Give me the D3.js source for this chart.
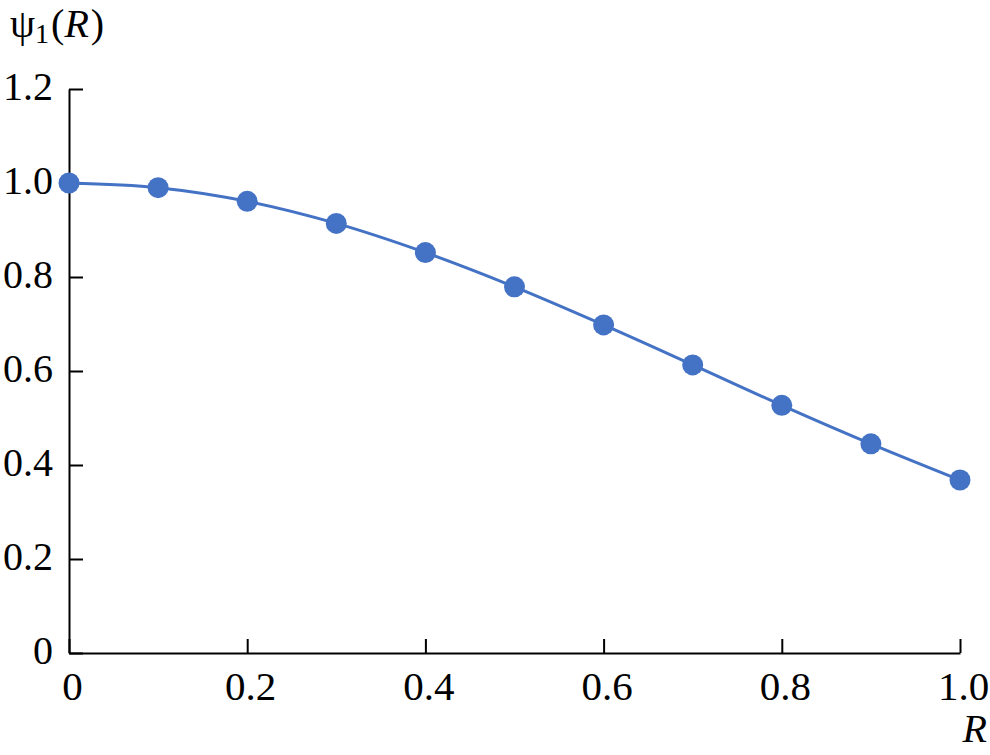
<!DOCTYPE html>
<html><head><meta charset="utf-8">
<script src="https://cdn.jsdelivr.net/npm/d3@7"></script>
<style>html,body{margin:0;padding:0;background:#fff;}</style>
</head><body>
<svg id="c" width="990" height="755"></svg>
<script>
const rValues = [0, 0.1, 0.2, 0.3, 0.4, 0.5, 0.6, 0.7, 0.8, 0.9, 1.0];
const psiValues = [1.0, 0.990, 0.961, 0.914, 0.852, 0.779, 0.698, 0.613, 0.527, 0.445, 0.368];
const xTicks = [0, 0.2, 0.4, 0.6, 0.8, 1.0];
const xTickLabels = ["0", "0.2", "0.4", "0.6", "0.8", "1.0"];
const yTicks = [0, 0.2, 0.4, 0.6, 0.8, 1.0, 1.2];
const yTickLabels = ["0", "0.2", "0.4", "0.6", "0.8", "1.0", "1.2"];

const svg = d3.select("#c");
const font = "Liberation Serif";
const color = "#4472C4";
const x = d3.scaleLinear().domain([0, 1]).range([69, 960]);
const y = d3.scaleLinear().domain([0, 1.2]).range([653, 89]);

// axes
const xAxis = d3.axisBottom(x).tickValues(xTicks).tickSizeInner(-14).tickSizeOuter(0)
  .tickFormat((d, i) => xTickLabels[i]);
const gx = svg.append("g").attr("transform", `translate(0,${y(0)})`).call(xAxis)
  .attr("font-family", font).attr("font-size", 41);
gx.select(".domain").attr("stroke", "#000").attr("stroke-width", 2);
gx.selectAll(".tick line").attr("stroke", "#000").attr("stroke-width", 2);
gx.selectAll(".tick text").attr("fill", "#000")
  .attr("y", 47).attr("dy", 0).attr("dx", 3);

const yAxis = d3.axisLeft(y).tickValues(yTicks).tickSizeInner(-14).tickSizeOuter(0)
  .tickFormat((d, i) => yTickLabels[i]);
const gy = svg.append("g").attr("transform", `translate(${x(0)},0)`).call(yAxis)
  .attr("font-family", font).attr("font-size", 40);
gy.select(".domain").attr("stroke", "#000").attr("stroke-width", 2);
gy.selectAll(".tick line").attr("stroke", "#000").attr("stroke-width", 2);
gy.selectAll(".tick text").attr("fill", "#000")
  .attr("x", -16).attr("dy", 0).attr("y", 10).attr("text-anchor", "end");

// line
const data = rValues.map((r, i) => ({r, v: psiValues[i]}));
const line = d3.line().x(d => x(d.r)).y(d => y(d.v)).curve(d3.curveCatmullRom);
svg.append("path").datum(data).attr("d", line).attr("fill", "none")
  .attr("stroke", color).attr("stroke-width", 3);
svg.selectAll("circle.pt").data(data).enter().append("circle").attr("class", "pt")
  .attr("cx", d => x(d.r)).attr("cy", d => y(d.v)).attr("r", 10.5).attr("fill", color);

// labels
const t = svg.append("text").attr("x", 10).attr("y", 37).attr("font-family", font).attr("font-size", 40).attr("fill", "#000");
t.append("tspan").text("ψ");
t.append("tspan").attr("font-size", 28).attr("dy", 6).text("1");
t.append("tspan").attr("dy", -6).attr("dx", 2).text("(");
t.append("tspan").attr("font-style", "italic").text("R");
t.append("tspan").attr("dx", 2).text(")");

svg.append("text").attr("x", 987).attr("y", 742).attr("text-anchor", "end")
  .attr("font-family", font).attr("font-size", 40).attr("font-style", "italic").attr("fill", "#000").text("R");
</script>
</body></html>
